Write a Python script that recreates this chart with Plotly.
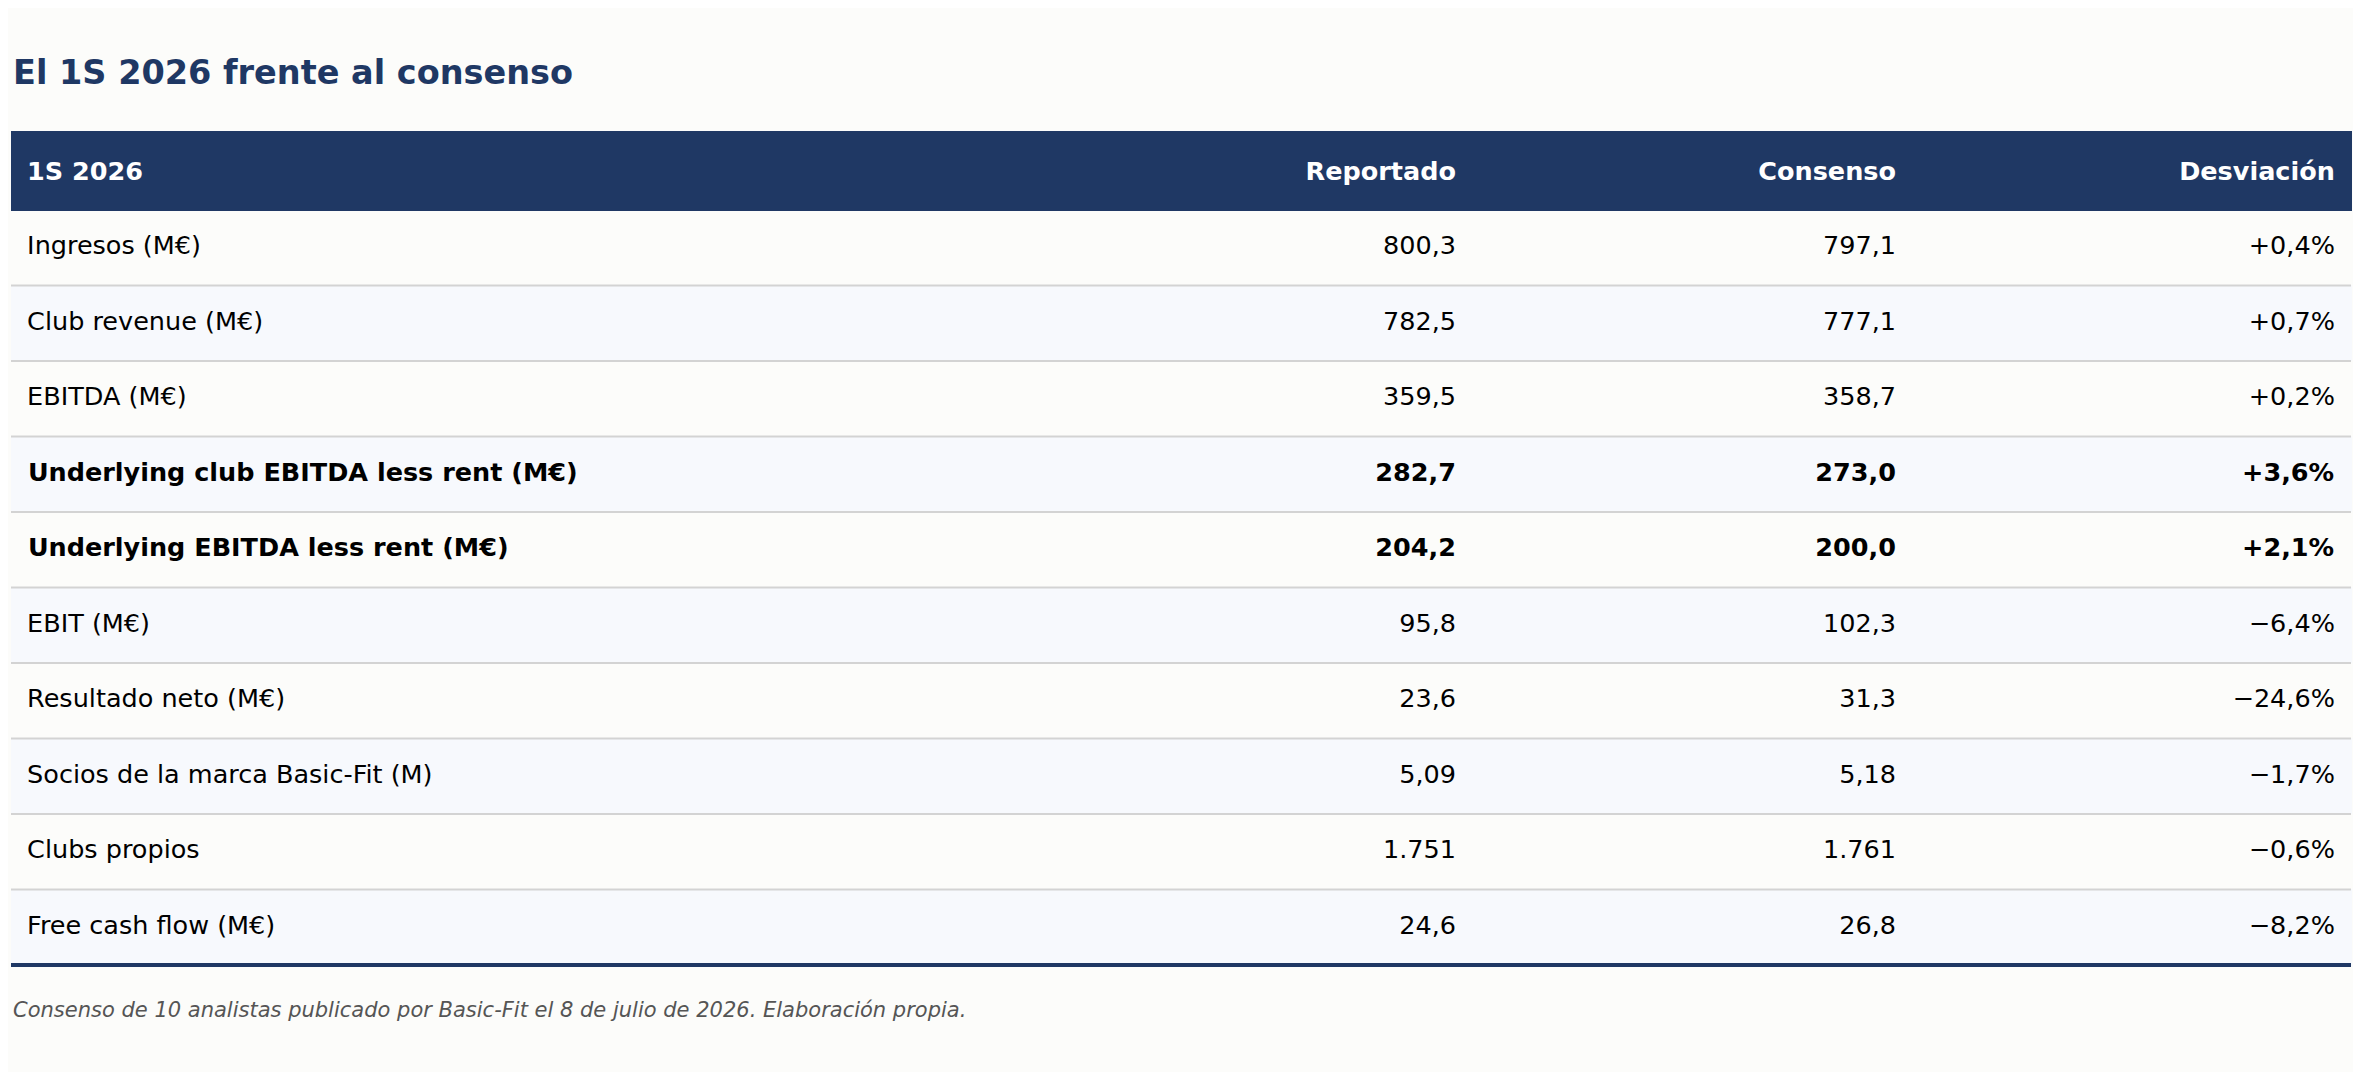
import plotly.graph_objects as go

# datos del 1S 2026 frente al consenso
metricas = ['Ingresos (M€)', 'Club revenue (M€)', 'EBITDA (M€)',
            'Underlying club EBITDA less rent (M€)', 'Underlying EBITDA less rent (M€)',
            'EBIT (M€)', 'Resultado neto (M€)', 'Socios de la marca Basic-Fit (M)',
            'Clubs propios', 'Free cash flow (M€)']
reportado = [800.3, 782.5, 359.5, 282.7, 204.2, 95.8, 23.6, 5.09, 1751, 24.6]
consenso = [797.1, 777.1, 358.7, 273.0, 200.0, 102.3, 31.3, 5.18, 1761, 26.8]
desviacion = [0.4, 0.7, 0.2, 3.6, 2.1, -6.4, -24.6, -1.7, -0.6, -8.2]
decimales = [1, 1, 1, 1, 1, 1, 1, 2, 0, 1]
negrita = [False, False, False, True, True, False, False, False, False, False]
cabecera = ['1S 2026', 'Reportado', 'Consenso', 'Desviación']

titulo = 'El 1S 2026 frente al consenso'
nota = 'Consenso de 10 analistas publicado por Basic-Fit el 8 de julio de 2026. Elaboración propia.'

NAVY = '#1f3864'
BG = '#fcfcfa'
ALT = '#f7f9fd'
SEP = '#d3d3d3'
OFF = 8                      # margen del body de la pagina
W, H = 2361 - 2 * OFF, 1080 - 2 * OFF
top, head_h, row_h = 131, 79, 75.5
x0, x1 = 11, 2351
shift = 17                   # plotly pone el texto arriba de la celda
NB = '\u00a0'
anchos = [1013, 440, 440, 447]
alin = ['left', 'right', 'right', 'right']


def xp(px):
    return (px - OFF) / W


def yp(px):
    return 1 - (px - OFF) / H


def fmt(v, d):
    s = f'{abs(v):,.{d}f}'.replace(',', 'X').replace('.', ',').replace('X', '.')
    return ('\u2212' if v < 0 else '') + s


def pct(v):
    s = f'{abs(v):.1f}'.replace('.', ',')
    return ('+' if v >= 0 else '\u2212') + s + '%'


n = len(metricas)
bottom = top + head_h + row_h * n

col_lab = [NB + m for m in metricas]
col_rep = [fmt(v, d) for v, d in zip(reportado, decimales)]
col_con = [fmt(v, d) for v, d in zip(consenso, decimales)]
col_dev = [pct(v) + NB for v in desviacion]
columnas = [col_lab, col_rep, col_con, col_dev]
cab = [NB + '<b>' + cabecera[0] + '</b>'] + ['<b>' + c + '</b>' for c in cabecera[1:3]] \
      + ['<b>' + cabecera[3] + '</b>' + NB]

fills = [BG if i % 2 == 0 else ALT for i in range(n)]
vacio = [''] * n
clear = 'rgba(0,0,0,0)'


def solo(col, bold):
    return [t if k == bold else '' for t, k in zip(col, negrita)]


# fondo: cabecera y filas alternas
fondo = go.Table(
    domain=dict(x=[xp(x0), xp(x1)], y=[yp(bottom + 5), yp(top)]),
    columnwidth=anchos,
    header=dict(values=['', '', '', ''], fill_color=NAVY, line_color=NAVY, line_width=1,
                height=head_h),
    cells=dict(values=[vacio] * 4, fill_color=[fills] * 4, line_color=[fills] * 4,
               line_width=1, height=row_h),
)


# texto, desplazado para centrarlo en la fila (una capa normal y otra en negrita)
def capa(bold, header_vals):
    return go.Table(
        domain=dict(x=[xp(x0), xp(x1)], y=[yp(bottom + shift + 5), yp(top + shift)]),
        columnwidth=anchos,
        header=dict(values=header_vals, fill_color=clear, line_color=clear, line_width=0,
                    align=alin, font=dict(family='DejaVu Sans', size=25.5, color='white'),
                    height=head_h),
        cells=dict(values=[solo(c, bold) for c in columnas], fill_color=clear,
                   line_color=clear, line_width=0, align=alin,
                   font=dict(family='DejaVu Sans', size=25.5, color='#000000',
                             weight=700 if bold else 400),
                   height=row_h),
    )


fig = go.Figure([fondo, capa(False, cab), capa(True, ['', '', '', ''])])

shapes = []
for i in range(1, n):
    y = top + head_h + row_h * i
    shapes.append(dict(type='line', xref='paper', yref='paper', x0=xp(x0), x1=xp(x1),
                       y0=yp(y), y1=yp(y), line=dict(color=SEP, width=2)))
shapes.append(dict(type='line', xref='paper', yref='paper', x0=xp(x0), x1=xp(x1),
                   y0=yp(bottom), y1=yp(bottom), line=dict(color=NAVY, width=4)))

fig.update_layout(
    width=W, height=H,
    margin=dict(l=0, r=0, t=0, b=0),
    paper_bgcolor=BG, plot_bgcolor=BG,
    shapes=shapes,
    annotations=[
        dict(text='<b>' + titulo + '</b>', xref='paper', yref='paper', x=xp(x0), y=yp(73),
             xanchor='left', yanchor='middle', showarrow=False,
             font=dict(family='DejaVu Sans', size=33.5, color=NAVY)),
        dict(text='<i>' + nota + '</i>', xref='paper', yref='paper', x=xp(x0), y=yp(1010),
             xanchor='left', yanchor='middle', showarrow=False,
             font=dict(family='DejaVu Sans', size=21, color='#555555')),
    ],
)

fig.write_html('out.html')
